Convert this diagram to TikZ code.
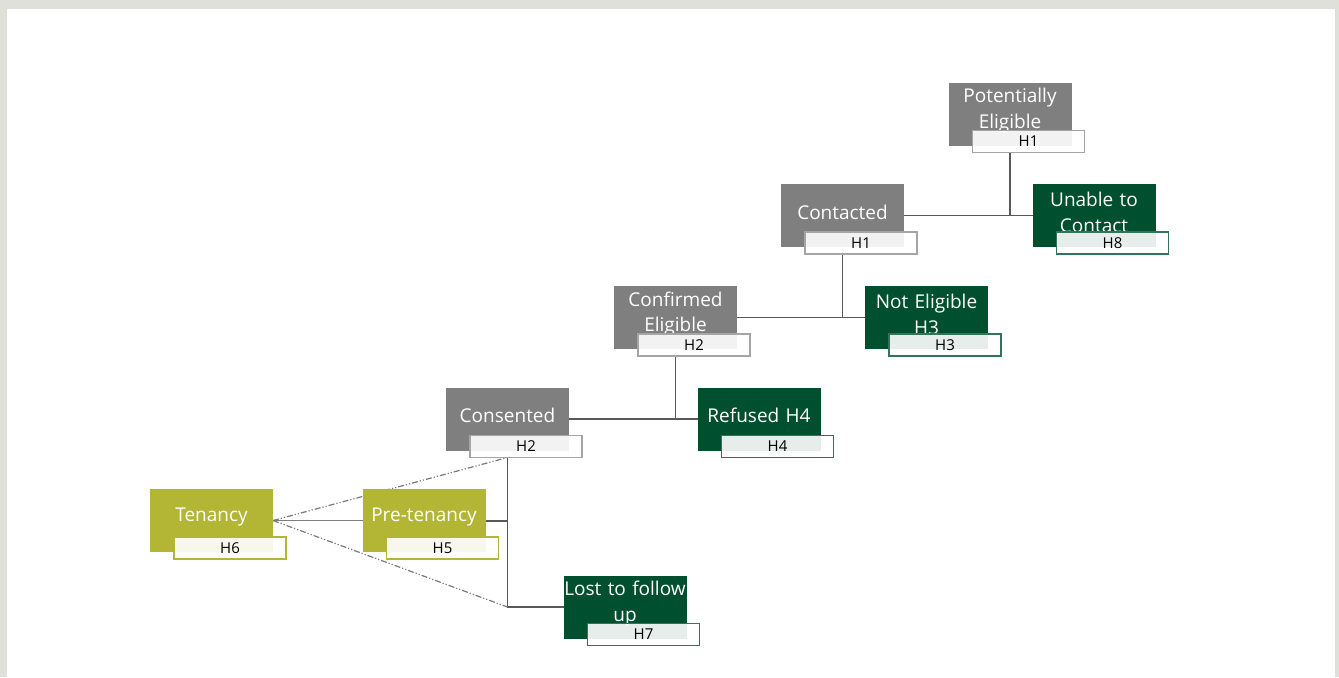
\documentclass[tikz,border=0pt]{standalone}
\usepackage{fontspec}
\setmainfont{Open Sans}
\usetikzlibrary{positioning, backgrounds}
\definecolor{stagegrey}{HTML}{7F7F7F}
\definecolor{exitgreen}{HTML}{00502F}
\definecolor{tenolive}{HTML}{B3B635}
\definecolor{linegrey}{HTML}{595959}
\definecolor{framegrey}{HTML}{E0E0DA}

\begin{document}
\begin{tikzpicture}[x=0.5pt,y=-0.5pt]
  \tikzset{box/.style={rectangle, minimum width=61.5pt, minimum height=31.5pt, inner xsep=0pt, inner ysep=2pt, outer sep=0pt, text width=61.5pt, align=center, text=white, font=\fontsize{9.5}{13}\selectfont, execute at end node={\par\kern3.5pt}}};
  \tikzset{stage/.style={box, fill=stagegrey}};
  \tikzset{exit/.style={box, fill=exitgreen}};
  \tikzset{tenure/.style={box, fill=tenolive}};
  \tikzset{tag/.style 2 args={rectangle, minimum width=56pt, minimum height=11pt, inner sep=0pt, outer sep=0pt, fill=white, fill opacity=0.9, text opacity=1, draw=#2, line width=0.6pt, font=\fontsize{7.5}{8}\selectfont, below right=-7.5pt and 12pt of #1.south west}};
  \tikzset{link/.style={linegrey, line width=0.6pt}};
  \tikzset{branch/.style={dashed, dash pattern=on 3pt off 1pt on 0.6pt off 1pt on 0.6pt off 1pt, linegrey!80, line width=0.6pt}};

  \useasboundingbox (0,0) rectangle (1339,677);

  % main stages
  \node[stage] (pe) at (1010,114) {Potentially\\Eligible};
  \node[stage] (con) at (842.5,215.5) {Contacted};
  \node[stage] (ce) at (675.5,317.5) {Confirmed\\Eligible};
  \node[stage] (cs) at (507.5,419) {Consented};

  % exits
  \node[exit] (utc) at (1094,215.5) {Unable to\\Contact};
  \node[exit] (ne) at (926.5,317.5) {Not Eligible\\H3};
  \node[exit] (ref) at (759,419) {Refused H4};
  \node[exit] (ltf) at (625,607) {Lost to follow\\up};

  % tenure
  \node[tenure] (ten) at (211.5,520.5) {Tenancy};
  \node[tenure] (pre) at (424,520.5) {Pre-tenancy};

  % tags
  \node[tag={pe}{stagegrey!70}] (pe-h) {H1};
  \node[tag={con}{stagegrey!70}] (con-h) {H1};
  \node[tag={ce}{stagegrey!70}] (ce-h) {H2};
  \node[tag={cs}{stagegrey!70}] (cs-h) {H2};
  \node[tag={utc}{exitgreen!80}] (utc-h) {H8};
  \node[tag={ne}{exitgreen!80}] (ne-h) {H3};
  \node[tag={ref}{exitgreen!80}] (ref-h) {H4};
  \node[tag={ltf}{exitgreen!80}] (ltf-h) {H7};
  \node[tag={ten}{tenolive}] (ten-h) {H6};
  \node[tag={pre}{tenolive}] (pre-h) {H5};

  \begin{scope}[on background layer]
    \fill[framegrey] (0,0) rectangle (1339,677);
    \fill[white] (7,9) rectangle (1335,677);

    % pe -> con / utc
    \draw[link] (pe.center |- pe-h.south) -- (pe.center |- con.east);
    \draw[link] (con.east) -- (utc.west);
    % con -> ce / ne
    \draw[link] (con.center |- con-h.south) -- (con.center |- ce.east);
    \draw[link] (ce.east) -- (ne.west);
    % ce -> cs / ref
    \draw[link] (ce.center |- ce-h.south) -- (ce.center |- cs.east);
    \draw[link] (cs.east) -- (ref.west);
    % cs -> pre / ltf
    \draw[link] (cs.center |- cs-h.south) -- (cs.center |- ltf.west) -- (ltf.west);
    \draw[link, line width=1pt] (pre.east) -- (pre.east -| cs.center);
    \draw[link, stagegrey] (ten.east) -- (pre.west);
    \draw[branch] (ten.east) -- (cs.center |- cs-h.south);
    \draw[branch] (ten.east) -- (cs.center |- ltf.west);
  \end{scope}
\end{tikzpicture}
\end{document}
